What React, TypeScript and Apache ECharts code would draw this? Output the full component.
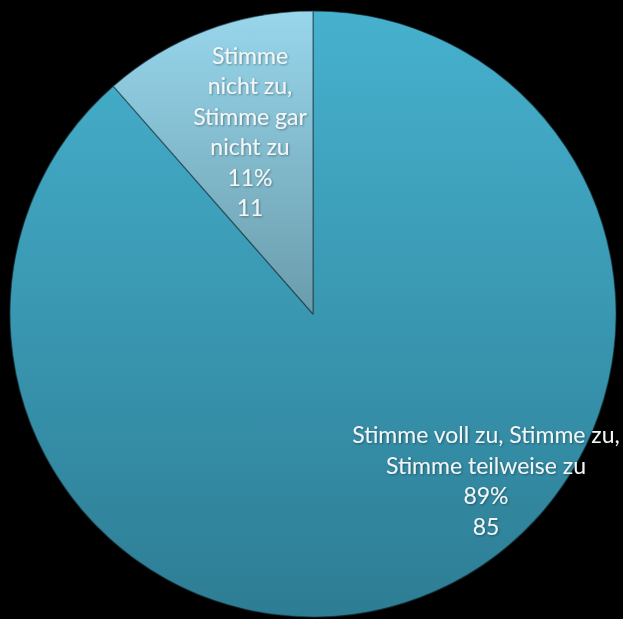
import React, { useEffect, useRef } from "react";
import * as echarts from "echarts";

const categories = [
  "Stimme voll zu, Stimme zu,\nStimme teilweise zu",
  "Stimme\nnicht zu,\nStimme gar\nnicht zu",
];
const values = [85, 11];

const sliceColors = [
  ["#46b1ce", "#2d7d94"],
  ["#98d6ec", "#6a9cab"],
];
const labelPositions = [
  [486, 480],
  [250, 131],
];

export default function App() {
  const ref = useRef<HTMLDivElement>(null);
  useEffect(() => {
    document.body.style.margin = "0";
    document.body.style.background = "#000";
    const chart = echarts.init(ref.current!, null, { renderer: "svg" });
    chart.setOption({
      animation: false,
      backgroundColor: "#000000",
      series: [
        {
          type: "pie",
          center: [313, 314],
          radius: [0, 303],
          startAngle: 90,
          clockwise: true,
          percentPrecision: 0,
          data: categories.map((name, i) => ({
            name,
            value: values[i],
            itemStyle: {
              color: new echarts.graphic.LinearGradient(0, 0, 0, 1, [
                { offset: 0, color: sliceColors[i][0] },
                { offset: 1, color: sliceColors[i][1] },
              ]),
              borderColor: "rgba(25,55,65,0.6)",
              borderWidth: 1.2,
            },
          })),
          label: {
            show: true,
            position: "inside",
            formatter: "{b}\n{d}%\n{c}",
            color: "#f2f6f7",
            fontFamily: "Lato, 'Open Sans', sans-serif",
            fontSize: 23,
            lineHeight: 30.5,
            align: "center",
            textShadowColor: "rgba(0,0,0,0.35)",
            textShadowBlur: 2,
            textShadowOffsetX: 1,
            textShadowOffsetY: 1,
          },
          labelLayout: (params: any) => ({
            x: labelPositions[params.dataIndex][0],
            y: labelPositions[params.dataIndex][1],
            align: "center",
            verticalAlign: "middle",
          }),
          labelLine: { show: false },
          emphasis: { disabled: true },
        },
      ],
    });
    return () => chart.dispose();
  }, []);
  return <div ref={ref} style={{ width: 623, height: 619 }} />;
}
